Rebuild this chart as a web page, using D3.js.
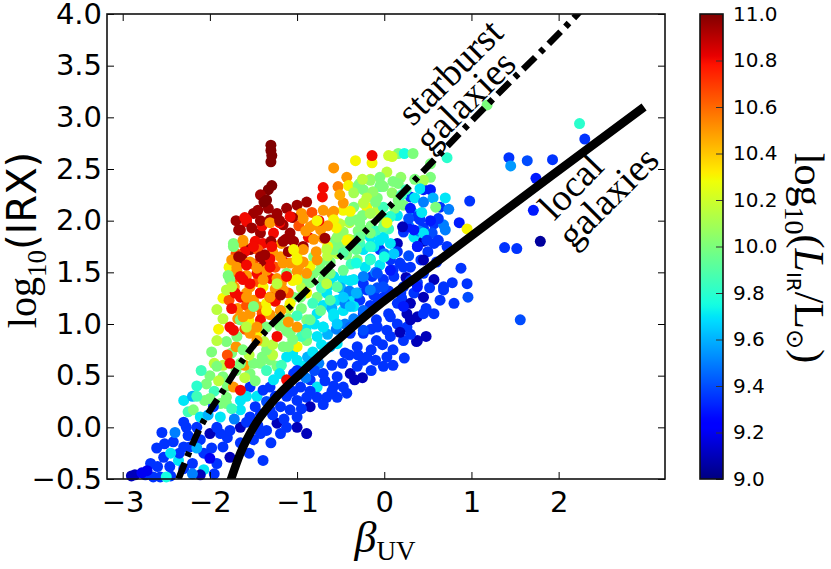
<!DOCTYPE html>
<html lang="en">
<head>
<meta charset="UTF-8">
<title>IRX - beta relation</title>
<script src="https://d3js.org/d3.v7.min.js"></script>
<style>
  body { margin: 0; background: #fff; }
  svg { display: block; }
</style>
</head>
<body>
<script>
// colour range and tick labels
const lirDomain = [9.0, 11.0];
const xTicks = [-3, -2, -1, 0, 1, 2];
const yTicks = [-0.5, 0, 0.5, 1, 1.5, 2, 2.5, 3, 3.5, 4];
const cbTicks = [9.0, 9.2, 9.4, 9.6, 9.8, 10.0, 10.2, 10.4, 10.6, 10.8, 11.0];

// galaxies: [beta_UV, log10(IRX), log10(L_IR/Lsun)]
const upperPts = [
  [-1.30,2.73,11.0],[-1.30,2.68,11.0],[-1.29,2.63,11.0],[-1.30,2.57,11.0],
  [-1.29,2.34,11.0],[-1.33,2.30,11.0],[-1.42,2.25,10.95],[-1.35,2.20,11.0],[-1.38,2.18,11.0],
  [-0.70,2.32,10.8],[-0.71,2.23,10.8],[-0.58,2.51,10.5],[-0.43,2.42,10.5],[-0.53,2.33,10.55],[-0.51,2.25,10.45],
  [-0.41,2.34,10.3],[-0.33,2.58,10.3],[-0.14,2.56,10.3],[-0.14,2.63,10.8],
  [0.05,2.63,10.2],[0.16,2.65,10.0],[0.23,2.65,9.75],[0.33,2.65,10.0],[0.09,2.62,10.2],
  [-0.30,2.34,10.0],[-0.16,2.39,10.05],[-0.35,2.27,10.1],[-0.24,2.30,10.0],[-0.13,2.28,10.05],[-0.04,2.35,10.0],[0.03,2.47,10.15],
  [0.19,2.42,10.05],[0.16,2.36,10.0],[-0.01,2.33,10.0],[0.53,2.42,10.0],[0.45,2.39,10.1],[0.41,2.31,9.7],[0.53,2.30,9.3],
  [0.56,2.22,9.6],[0.74,2.11,9.5],[0.70,2.22,9.7],[0.59,2.13,10.0],[0.43,2.08,9.7],[0.53,2.00,9.3],[0.30,2.12,9.3],
  [0.28,2.02,9.4],[0.16,2.20,10.0],[0.09,2.27,10.05],[0.03,1.98,10.25],[0.21,1.94,9.1],[0.34,1.91,9.3],[0.49,1.81,9.35],
  [0.70,1.91,9.5],[0.62,1.81,9.35],[0.53,2.55,10.0],[0.72,2.61,9.8],[1.18,3.12,10.0],
  [-0.25,2.40,10.15],[-0.05,2.42,10.0],[0.10,2.38,10.0],[0.25,2.30,9.85],[0.35,2.40,10.0],[0.35,2.22,9.7],
  [0.45,2.18,9.5],[0.20,2.25,9.85],[-0.20,2.22,10.15],[-0.10,2.18,10.0]
];
const outlierPts = [
  [2.24,2.94,9.8],[2.30,2.79,9.35],[1.43,2.61,9.35],[1.45,2.53,9.55],[1.64,2.58,9.4],[1.93,2.59,9.35],
  [1.74,2.41,9.3],[1.71,2.10,9.3],[1.79,1.80,9.05],[0.98,2.19,9.35],[0.86,1.98,9.3],[0.95,1.92,10.3],
  [1.38,1.74,9.35],[1.52,1.73,9.35],[1.56,1.04,9.4]
];
const redPts = [
  [-1.37,2.18,10.95],[-1.50,2.07,10.95],[-1.67,1.91,10.95],[-1.58,1.99,10.8],[-1.62,1.78,10.5],[-1.73,1.78,10.0],
  [-1.54,1.72,10.95],[-1.23,2.07,10.95],[-1.12,2.12,10.95],[-1.00,2.15,10.95],[-0.89,2.18,10.95],[-1.16,1.96,10.95],
  [-1.31,2.01,10.95],[-1.42,1.88,10.95],[-1.27,1.88,10.8],[-1.08,1.88,10.95],[-1.39,1.78,10.8],[-1.18,1.78,10.5],
  [-1.04,1.80,10.95],[-0.95,2.07,10.5],[-0.81,1.96,10.5],[-0.87,1.84,10.8],[-0.70,2.10,10.5],[-0.60,2.07,10.5],
  [-0.73,1.91,10.5],[-0.70,1.83,10.5],[-0.93,1.75,10.95],[-0.58,2.01,10.3],[-0.47,2.17,10.5],[-0.39,2.09,10.3],
  [-1.70,2.00,10.95],[-1.60,2.03,10.8],[-1.45,2.10,10.95],[-1.40,1.95,10.8],[-1.33,2.12,10.95],[-1.20,1.98,10.8],
  [-1.05,2.03,10.95],[-0.98,1.95,10.65],[-0.90,1.90,10.5],[-1.13,1.82,10.95],[-1.30,1.80,10.95],[-1.48,1.80,10.8],
  [-1.60,1.70,10.8],[-1.70,1.68,10.65],[-1.50,1.58,10.65],[-1.38,1.57,10.95],[-1.25,1.55,10.65],[-1.15,1.60,10.8],
  [-0.98,1.56,10.5],[-0.85,1.56,10.3],[-0.78,1.70,10.5],[-0.65,1.75,10.3],[-0.55,1.93,10.3],[-0.65,1.95,10.5],
  [-0.83,2.08,10.65],[-0.75,2.00,10.8],[-1.28,1.70,10.5],[-1.45,1.72,10.65],[-1.78,1.55,10.3],[-1.72,1.45,10.65],
  [-1.58,1.47,10.5],[-1.45,1.41,10.65],[-1.30,1.44,10.8],[-1.18,1.40,10.5],[-1.05,1.42,10.3],[-1.10,1.30,10.65],
  [-1.25,1.34,10.5],[-1.42,1.30,10.8],[-1.58,1.30,10.5],[-1.72,1.36,10.5],[-1.85,1.25,10.3],[-1.78,1.23,10.65],
  [-1.68,1.15,10.5],[-1.58,1.18,10.65],[-1.45,1.17,10.5],[-1.35,1.20,10.3],[-1.25,1.22,10.8],[-1.40,1.10,10.65],
  [-1.55,1.03,10.3],[-1.68,1.05,10.5],[-1.85,1.05,10.15],[-1.90,0.95,10.3],[-1.60,0.95,10.65],[-1.45,0.92,10.3],
  [-1.38,0.83,10.15],[-1.70,0.78,10.5],[-1.55,0.70,10.15],[-1.80,0.70,10.65],[-1.95,0.62,10.15],
  [-1.75,1.62,10.5],[-1.63,1.63,10.95],[-1.54,1.60,10.5],[-1.42,1.65,10.95],[-1.31,1.63,10.8],[-1.19,1.65,10.5],
  [-1.10,1.70,10.95],[-1.00,1.65,10.3],[-1.08,1.59,10.5],[-0.93,1.60,10.5],[-1.69,1.52,10.5],[-1.62,1.43,10.8],
  [-1.46,1.49,10.8],[-1.35,1.52,10.5],[-1.23,1.44,10.5],[-1.54,1.36,10.5],[-1.39,1.36,10.3],[-1.00,1.51,10.5],
  [-1.77,1.43,10.0],[-1.81,1.33,10.15],[-1.92,1.14,10.15],[-1.75,1.15,10.8],[-1.65,1.26,10.8],[-1.50,1.23,10.5],
  [-1.31,1.26,10.8],[-1.16,1.33,10.5],[-0.89,1.30,10.3],[-1.77,0.97,10.8],[-1.65,1.04,10.0],[-1.54,1.10,10.5],
  [-1.42,1.04,10.8],[-1.31,1.09,10.5],[-1.19,1.13,10.5],[-1.54,0.91,10.5],[-1.69,0.88,10.0],[-1.81,0.83,10.0],
  [-1.98,0.73,10.0],[-1.92,0.84,10.15],[-1.35,0.97,10.0],[-1.23,0.88,10.8],[-1.00,0.97,10.5],[-1.46,0.84,10.5],
  [-1.62,0.75,10.0],[-1.77,0.62,10.8],[-1.65,0.62,10.0],[-1.92,0.59,10.0],[-1.73,0.39,10.5],[-1.65,0.36,10.8],
  [-1.12,0.46,10.8]
];
const corePts = [
  [-1.58,2.01,10.8],[-1.65,1.91,10.95],[-1.52,1.93,10.95],[-1.42,2.00,10.95],[-1.31,1.98,10.5],[-1.20,2.00,10.95],
  [-1.08,2.04,10.8],[-0.93,2.02,10.5],[-0.85,1.94,10.5],[-0.77,2.00,10.3],[-0.68,1.83,10.95],[-0.81,1.82,10.5],
  [-0.93,1.72,10.5],[-1.04,1.72,10.3],[-1.16,1.80,10.95],[-1.29,1.75,10.8],[-1.37,1.67,10.95],[-1.50,1.75,10.8],
  [-1.62,1.81,10.5],[-1.67,1.65,10.95],[-1.69,1.55,10.5],[-1.58,1.57,10.8],[-1.46,1.54,10.5],[-1.31,1.55,10.8],
  [-1.16,1.59,10.5],[-1.00,1.62,10.3],[-0.89,1.49,10.5],[-0.73,1.52,10.0],[-0.77,1.62,10.5],[-0.66,1.72,10.15],
  [-1.12,1.46,10.8],[-1.00,1.43,10.3],[-1.23,1.39,10.15],[-1.39,1.43,10.5],[-1.54,1.39,10.8],[-1.65,1.46,10.8],
  [-1.71,1.30,10.8],[-1.58,1.26,10.5],[-1.42,1.30,10.8],[-1.31,1.26,10.5],[-1.19,1.28,10.95],[-1.08,1.20,10.3],
  [-0.96,1.26,10.0],[-1.19,1.13,10.5],[-1.35,1.13,10.3],[-1.50,1.17,10.0],[-1.62,1.07,10.5],[-1.73,0.94,10.8],
  [-1.58,0.97,10.15],[-1.46,0.97,10.5],[-1.10,1.02,10.5],[-1.73,1.75,10.0],[-1.79,1.47,10.0],[-1.75,1.36,10.15]
];
const bandPts = [
  [-0.31,2.01,10.0],[-0.20,2.13,10.3],[-0.24,1.91,10.0],[-0.47,1.89,10.05],[-0.56,1.81,10.0],[-0.35,1.81,10.0],
  [-0.16,1.84,9.7],[-0.01,2.01,10.0],[-0.01,1.84,9.7],[0.07,2.04,10.0],[0.22,2.15,10.0],[0.34,2.07,9.7],
  [0.41,2.01,9.35],[0.57,1.97,9.35],[0.68,1.96,9.5],[0.64,2.13,9.35],[0.22,1.89,9.35],[0.15,1.78,9.1],
  [0.34,1.84,9.7],[0.45,1.80,9.1],[0.57,1.78,9.35],[0.72,1.75,9.35],[0.38,1.75,9.35],[0.07,1.78,9.7],[-0.05,1.72,9.35],
  [-0.81,1.65,10.0],[-0.73,1.59,10.0],[-0.62,1.60,10.0],[-0.54,1.68,10.15],[-0.43,1.67,10.0],[-0.31,1.62,10.0],
  [-0.24,1.72,9.7],[-0.16,1.63,9.7],[-0.05,1.57,9.7],[0.07,1.62,9.35],[0.18,1.59,9.35],[0.30,1.55,9.35],
  [0.45,1.49,9.35],[0.57,1.43,9.1],[0.68,1.36,9.35],[0.60,1.60,9.35],[-1.12,1.49,10.0],[-0.93,1.43,10.0],
  [-0.81,1.49,10.0],[-0.70,1.43,10.0],[-0.58,1.46,9.7],[-0.47,1.43,9.7],[-0.35,1.43,9.7],[-0.24,1.39,9.35],
  [-0.14,1.46,9.35],[-0.01,1.43,9.35],[0.11,1.46,9.35],[0.22,1.36,9.35],[0.34,1.30,9.35],[0.45,1.26,9.1],
  [-1.04,1.26,10.0],[-0.77,1.26,10.0],[-0.66,1.30,9.7],[-0.54,1.23,9.7],[-0.39,1.26,9.7],[-0.28,1.23,9.35],
  [-0.12,1.28,9.35],[-0.01,1.26,9.35],[0.15,1.20,9.35],[0.26,1.10,9.1],[0.38,1.07,9.1],[0.57,1.10,9.35],[0.68,1.33,9.35],
  [-1.12,0.93,10.0],[-0.89,1.04,10.0],[-0.77,1.10,9.7],[-0.70,0.97,9.7],[-0.58,1.07,9.7],[-0.47,1.13,9.7],
  [-0.35,1.17,9.7],[-0.24,1.10,9.35],[-0.09,1.04,9.35],[0.03,0.94,9.35],[0.15,1.00,9.35],[0.26,0.97,9.35],
  [0.38,0.84,9.1],[0.07,0.88,9.35],[-0.09,0.84,9.35],[-0.24,0.91,9.35],[-0.31,0.78,9.35],[-0.39,0.91,9.35],
  [-0.54,0.81,9.7],[-0.77,0.88,9.7],[-0.89,0.84,10.0],[-1.00,0.78,10.3],[-1.16,0.78,10.0],[-1.35,0.75,10.0],
  [-0.20,0.68,9.35],[0.03,0.68,9.35],[0.22,0.84,9.35],[0.37,0.83,9.1],
  [-0.40,1.98,10.15],[-0.25,2.05,10.0],[-0.15,1.95,10.0],[0.05,1.92,9.85],[0.15,2.05,9.7],[0.28,1.95,9.5],
  [0.45,1.93,9.35],[0.55,1.88,9.4],[0.62,2.02,9.35],[0.12,2.12,10.0],[-0.08,2.10,10.15],[-0.30,1.90,10.0],
  [-0.50,1.75,10.0],[-0.40,1.82,10.15],[-0.28,1.78,9.85],[-0.12,1.75,9.7],[0.00,1.68,9.5],[0.15,1.70,9.35],
  [0.28,1.66,9.4],[0.42,1.62,9.35],[0.50,1.70,9.35],[0.40,1.90,9.5],[-0.10,1.90,9.85],[-0.65,1.66,10.15],
  [-0.38,1.58,9.85],[-0.22,1.55,9.7],[-0.10,1.50,9.5],[0.10,1.52,9.35],[0.25,1.45,9.1],[0.38,1.40,9.35],
  [0.52,1.35,9.35],[0.78,1.40,9.35],[0.88,1.54,9.35],[0.95,1.39,9.35],[0.96,1.26,9.4],[0.64,1.23,9.35],
  [-0.95,1.35,10.15],[-0.85,1.40,10.0],[-0.72,1.35,9.85],[-0.62,1.38,9.7],[-0.50,1.35,9.6],[-0.40,1.32,9.5],
  [-0.30,1.30,9.5],[-0.20,1.33,9.35],[-0.08,1.35,9.4],[0.05,1.32,9.35],[0.20,1.25,9.35],[0.30,1.20,9.1],
  [0.48,1.15,9.35],[0.80,1.20,9.35],[-0.82,1.20,9.85],[-0.70,1.18,9.7],[-0.60,1.15,9.6],[-0.45,1.20,9.5],
  [-0.35,1.05,9.5],[-0.16,1.18,9.35],[0.05,1.10,9.35],[-0.95,1.15,10.0],[-1.10,1.15,10.15],[-1.22,1.05,10.0],
  [-1.10,1.05,10.0],[-1.00,1.08,9.85],[-0.90,0.95,9.7],[-0.80,1.00,9.7],[-0.65,0.90,9.6],[-0.55,0.95,9.5],
  [-0.45,1.00,9.5],[-0.15,0.95,9.35],[-0.02,0.80,9.35],[0.10,0.75,9.35],[0.18,0.92,9.1],[0.30,0.90,9.35],
  [0.48,0.88,9.1],[-0.15,0.75,9.35],[-0.30,0.70,9.35],[-0.45,0.72,9.35],[-0.62,0.78,9.6],[-0.72,0.80,9.7],
  [-0.82,0.73,9.7],[-0.95,0.88,9.85],[-1.05,0.85,10.0],[-1.20,0.98,10.0],[-1.28,0.80,10.15],[-1.10,0.78,10.0]
];
const midPts = [
  [-0.28,2.36,10.0],[-0.16,2.40,10.15],[-0.05,2.33,9.9],[-0.08,2.22,10.0],[-0.24,2.17,10.15],[-0.35,2.13,10.0],
  [-0.47,2.10,10.3],[-0.58,2.09,10.5],[-0.51,1.97,10.15],[-0.39,2.00,10.0],[-0.28,1.98,10.0],[-0.16,2.07,10.1],
  [-0.01,2.13,9.85],[0.07,2.04,9.8],[-0.01,1.94,9.95],[-0.16,1.88,10.0],[-0.28,1.84,9.95],[-0.43,1.81,10.3],
  [-0.54,1.84,10.05],[-0.58,1.72,10.0],[-0.47,1.69,9.9],[-0.32,1.72,9.95],[-0.16,1.75,9.8],[-0.05,1.81,9.7],
  [0.11,1.68,9.65],[0.00,1.65,9.75],[-0.16,1.62,9.8],[-0.32,1.59,9.75],[-0.47,1.52,9.95],[-0.62,1.49,10.0],
  [-0.66,1.39,10.15],[-0.54,1.36,9.9],[-0.39,1.42,9.7],[-0.24,1.46,9.5],[-0.08,1.49,9.4],[0.07,1.52,9.3],
  [0.22,1.55,9.35],[-0.01,1.36,9.4],[-0.16,1.33,9.5],[-0.32,1.30,9.6],[-0.47,1.26,9.65],[-0.62,1.23,9.9],
  [-0.73,1.13,9.95],[-0.58,1.10,9.7],[-0.39,1.17,9.65],[-0.24,1.13,9.45],[-0.08,1.20,9.35],[-0.85,1.04,9.95],
  [-0.70,0.97,9.7],[-0.54,1.00,9.65],[-0.39,0.97,9.45],[-0.89,0.91,9.9],[-1.08,0.91,10.0],[-0.24,0.94,9.4],
  [0.30,2.23,9.35],[0.45,2.30,9.3],[0.38,2.04,9.35],[0.26,1.94,9.3],[0.45,1.88,9.7],[0.38,1.75,9.3],
  [0.45,1.62,9.1],[0.30,1.42,9.35],[0.19,1.30,9.35],[0.38,1.36,9.3],[0.22,1.17,9.3],[0.07,1.07,9.35],
  [-0.08,0.97,9.35],[0.30,1.04,9.1],[0.45,1.10,9.35]
];
const lowPts = [
  [-2.04,0.42,10.0],[-2.06,0.26,10.0],[-2.30,0.26,9.7],[-1.85,0.49,10.0],[-1.54,0.52,10.0],[-1.42,0.62,10.0],
  [-1.31,0.65,10.0],[-1.23,0.59,10.0],[-1.12,0.68,9.7],[-1.00,0.65,9.7],[-0.93,0.59,9.7],[-1.04,0.52,9.35],
  [-0.96,0.39,9.35],[-0.85,0.46,9.35],[-0.77,0.39,9.7],[-0.70,0.52,9.35],[-0.54,0.49,9.35],[-0.47,0.39,9.35],
  [-0.39,0.52,9.1],[-0.31,0.59,9.35],[-0.24,0.65,9.35],[-0.01,0.59,9.35],[-0.34,0.46,9.1],[-0.66,0.29,9.35],
  [-0.54,0.29,9.35],[-0.43,0.33,9.35],[-0.77,0.29,9.35],[-0.89,0.29,9.35],[-1.00,0.26,9.35],[-1.54,0.39,9.35],
  [-1.46,0.30,9.7],[-1.39,0.36,9.35],[-1.31,0.39,9.35],[-1.65,0.26,9.7],[-1.81,0.29,10.0],[-1.88,0.23,10.0],[-1.27,0.46,9.7],
  [-1.40,0.68,10.0],[-1.28,0.70,10.15],[-1.18,0.60,9.85],[-1.05,0.72,9.7],[-0.88,0.68,9.6],[-0.75,0.62,9.5],
  [-0.60,0.60,9.35],[-0.48,0.62,9.35],[-0.40,0.70,9.35],[-0.10,0.65,9.35],[0.10,0.60,9.35],[0.23,0.67,9.35],
  [-0.15,0.55,9.35],[-0.25,0.48,9.1],[-0.58,0.40,9.35],[-0.68,0.45,9.35],[-0.80,0.55,9.4],[-0.90,0.48,9.5],
  [-1.00,0.55,9.35],[-1.20,0.52,9.7],[-1.35,0.55,9.85],[-1.48,0.45,10.0],[-1.60,0.48,10.15],[-1.70,0.55,10.0],
  [-1.80,0.40,10.0],[-1.95,0.35,9.85],[-2.00,0.50,10.0],[-1.90,0.45,10.15],[-2.10,0.55,9.85],[-2.15,0.40,9.8],
  [-2.25,0.15,9.85],[-2.20,0.30,9.6],[-1.85,0.60,10.15],[-1.75,0.72,10.0],[-1.60,0.60,10.5],[-1.50,0.62,10.0],
  [-2.30,0.05,9.35],[-2.19,0.17,10.0],[-2.11,0.10,9.7],[-1.96,0.20,9.35],[-1.81,0.23,10.0],[-1.65,0.17,9.7],
  [-1.54,0.10,9.35],[-1.42,0.13,9.35],[-1.31,0.17,9.35],[-1.19,0.20,9.35],[-1.08,0.17,9.35],[-1.00,0.10,9.35],
  [-0.85,0.20,9.1],[-1.00,0.00,9.1],[-0.89,-0.06,9.1],[-1.23,0.04,9.1],[-1.35,-0.03,9.35],[-1.42,-0.06,9.35],
  [-1.19,-0.06,9.35],[-1.65,0.00,9.1],[-1.77,-0.03,9.35],[-1.88,-0.06,9.35],[-2.00,-0.06,9.1],[-1.92,0.00,9.35],
  [-2.15,0.30,9.85],[-2.00,0.28,10.0],[-1.75,0.18,9.85],[-1.58,0.30,9.7],[-1.48,0.20,9.35],[-1.35,0.25,9.4],
  [-1.25,0.30,9.35],[-1.12,0.30,9.35],[-1.05,0.35,9.35],[-0.85,0.35,9.35],[-0.70,0.22,9.35],[-0.60,0.35,9.35],
  [-0.95,0.18,9.35],[-1.15,0.08,9.35],[-1.28,0.12,9.35],[-1.45,0.02,9.35],[-1.58,0.05,9.35],[-1.72,0.08,9.5],
  [-1.88,0.10,9.7],[-2.02,0.12,9.6],[-1.12,0.00,9.35],[-1.30,-0.15,9.35],[-1.50,-0.12,9.35],[-1.65,-0.15,9.35]
];
const tailPts = [
  [-2.11,-0.12,9.35],[-2.23,-0.19,9.35],[-2.07,-0.25,9.35],[-1.85,-0.19,9.35],[-1.77,-0.29,9.1],[-1.92,-0.35,9.35],
  [-2.07,-0.41,9.7],[-2.11,-0.46,9.1],[-1.39,-0.32,9.35],[-2.61,-0.20,9.35],[-2.52,-0.16,9.35],[-2.42,-0.14,9.35],
  [-2.53,-0.29,9.35],[-2.46,-0.38,9.35],[-2.36,-0.32,9.7],[-2.30,-0.19,9.35],[-2.57,-0.48,9.35],[-2.65,-0.48,9.35],
  [-2.27,0.00,9.35],[-2.86,-0.46,9.1],[-2.74,-0.46,9.35],[-2.90,-0.47,9.1],[-2.78,-0.44,9.2],[-2.15,0.00,9.35],
  [-2.25,-0.08,9.35],[-2.40,-0.05,9.5],[-2.35,-0.25,9.35],[-2.20,-0.35,9.35],[-1.98,-0.20,9.35],[-1.80,-0.10,9.35],
  [-1.55,-0.25,9.35],[-1.95,-0.45,9.35],[-2.00,-0.30,9.2],[-2.68,-0.35,9.35],[-2.72,-0.42,9.2],[-2.45,-0.47,9.35],
  [-2.50,-0.48,9.75],[-2.55,-0.05,9.35],[-2.45,-0.25,9.7],[-2.30,-0.40,9.35],[-2.20,-0.45,9.5],[-2.60,-0.38,9.35],
  [-2.15,-0.20,9.6]
];

// reference relations
const starburstBeta = [-2.36, -2.11, -1.86, -1.60, -1.33, -1.04, -0.70, -0.39, -0.05, 0.53, 1.18, 2.15, 2.25];
const starburstIrx  = [-0.50, 0.00, 0.34, 0.68, 0.96, 1.20, 1.49, 1.75, 2.04, 2.55, 3.12, 3.94, 4.03];
const localBeta = [-1.78, -1.65, -1.50, -1.27, -0.96, -0.54, -0.08, 0.38, 0.76, 1.91, 2.98];
const localIrx  = [-0.56, -0.25, 0.00, 0.26, 0.52, 0.84, 1.17, 1.46, 1.70, 2.43, 3.10];

const width = 831, height = 569;
const plot = { left: 107, right: 665, top: 14, bottom: 479 };
const bar = { left: 700, right: 723 };

const svg = d3.select('body').append('svg')
  .attr('width', width)
  .attr('height', height);

const x = d3.scaleLinear().domain([-3.18, 3.22]).range([plot.left, plot.right]);
const y = d3.scaleLinear().domain([-0.5, 4.0]).range([plot.bottom, plot.top]);

// matplotlib "jet"
const jetPos = [0, 0.11, 0.125, 0.34, 0.35, 0.375, 0.64, 0.65, 0.66, 0.89, 0.91, 1];
const jetCol = ['#000080', '#0000ff', '#0000ff', '#00dbff', '#00e6f7', '#15ffe2',
                '#efff08', '#f7f600', '#ffec00', '#ff1300', '#e80000', '#800000'];
const jet = d3.scaleLinear().domain(jetPos).range(jetCol)
  .interpolate(d3.interpolateRgb).clamp(true);
const color = v => jet((v - lirDomain[0]) / (lirDomain[1] - lirDomain[0]));

svg.append('clipPath').attr('id', 'plot-clip')
  .append('rect')
  .attr('x', plot.left).attr('y', plot.top)
  .attr('width', plot.right - plot.left).attr('height', plot.bottom - plot.top);

// points
const allPts = [].concat(tailPts, lowPts, bandPts, midPts, redPts, corePts, upperPts, outlierPts);
svg.append('g')
  .selectAll('circle')
  .data(allPts)
  .join('circle')
  .attr('cx', d => x(d[0]))
  .attr('cy', d => y(d[1]))
  .attr('r', 5.5)
  .attr('fill', d => color(d[2]));

// relations
const lineGen = d3.line().x(d => x(d[0])).y(d => y(d[1])).curve(d3.curveMonotoneX);
const lines = svg.append('g').attr('clip-path', 'url(#plot-clip)');

lines.append('path')
  .attr('d', lineGen(starburstBeta.map((b, i) => [b, starburstIrx[i]])))
  .attr('fill', 'none')
  .attr('stroke', '#000')
  .attr('stroke-width', 6.5)
  .attr('stroke-dasharray', '17,7,5,7');

lines.append('path')
  .attr('d', lineGen(localBeta.map((b, i) => [b, localIrx[i]])))
  .attr('fill', 'none')
  .attr('stroke', '#000')
  .attr('stroke-width', 8.5);

// annotations
const notes = [
  { text: 'starburst', cx: 459, cy: 81, rot: -45 },
  { text: 'galaxies', cx: 474, cy: 110, rot: -45 },
  { text: 'local', cx: 580, cy: 195, rot: -46 },
  { text: 'galaxies', cx: 617, cy: 206, rot: -45 }
];
svg.append('g')
  .selectAll('text')
  .data(notes)
  .join('text')
  .attr('transform', d => `translate(${d.cx},${d.cy}) rotate(${d.rot})`)
  .attr('text-anchor', 'middle')
  .style('font-family', '"Liberation Serif", serif')
  .style('font-size', '38px')
  .text(d => d.text);

// axes, ticks inside on all sides
const tickFont = g => g.selectAll('text')
  .style('font-family', '"DejaVu Sans", sans-serif')
  .style('font-size', '29px')
  .attr('fill', '#000');

svg.append('g')
  .attr('transform', `translate(0,${plot.bottom})`)
  .call(d3.axisBottom(x).tickValues(xTicks).tickSize(-7).tickPadding(12).tickFormat(d3.format('d')))
  .call(g => g.select('.domain').remove())
  .call(tickFont);

svg.append('g')
  .attr('transform', `translate(0,${plot.top})`)
  .call(d3.axisTop(x).tickValues(xTicks).tickSize(-7).tickFormat(''))
  .call(g => g.select('.domain').remove());

svg.append('g')
  .attr('transform', `translate(${plot.left},0)`)
  .call(d3.axisLeft(y).tickValues(yTicks).tickSize(-7).tickPadding(5).tickFormat(d3.format('.1f')))
  .call(g => g.select('.domain').remove())
  .call(tickFont);

svg.append('g')
  .attr('transform', `translate(${plot.right},0)`)
  .call(d3.axisRight(y).tickValues(yTicks).tickSize(-7).tickFormat(''))
  .call(g => g.select('.domain').remove());

svg.append('rect')
  .attr('x', plot.left).attr('y', plot.top)
  .attr('width', plot.right - plot.left).attr('height', plot.bottom - plot.top)
  .attr('fill', 'none')
  .attr('stroke', '#111')
  .attr('stroke-width', 1.6);

// axis labels
const yLab = svg.append('text')
  .attr('transform', 'translate(36,240) rotate(-90)')
  .attr('text-anchor', 'middle')
  .style('font-size', '40px');
yLab.append('tspan').style('font-family', '"Liberation Serif", serif').text('log');
yLab.append('tspan').style('font-family', '"Liberation Serif", serif').style('font-size', '27px').attr('dy', 10).text('10');
yLab.append('tspan').style('font-family', '"DejaVu Sans", sans-serif').attr('dy', -10).text('(IRX)');

const xLab = svg.append('text')
  .attr('x', 385).attr('y', 552)
  .attr('text-anchor', 'middle')
  .style('font-family', '"Liberation Serif", serif');
xLab.append('tspan').style('font-style', 'italic').style('font-size', '44px').text('β');
xLab.append('tspan').style('font-size', '27px').attr('dy', 8).text('UV');

// colour bar
const cb = d3.scaleLinear().domain(lirDomain).range([plot.bottom, plot.top]);
const grad = svg.append('defs').append('linearGradient')
  .attr('id', 'jet-grad')
  .attr('x1', 0).attr('y1', 1).attr('x2', 0).attr('y2', 0);
grad.selectAll('stop')
  .data(d3.range(0, 1.0001, 0.01))
  .join('stop')
  .attr('offset', d => d)
  .attr('stop-color', d => jet(d));

svg.append('rect')
  .attr('x', bar.left).attr('y', plot.top)
  .attr('width', bar.right - bar.left).attr('height', plot.bottom - plot.top)
  .attr('fill', 'url(#jet-grad)');

svg.append('g')
  .attr('transform', `translate(${bar.right},0)`)
  .call(d3.axisRight(cb).tickValues(cbTicks).tickSize(-7).tickPadding(10).tickFormat(d3.format('.1f')))
  .call(g => g.select('.domain').remove())
  .call(g => g.selectAll('line').attr('stroke', '#333'))
  .call(g => g.selectAll('text')
    .style('font-family', '"DejaVu Sans", sans-serif')
    .style('font-size', '20px')
    .attr('fill', '#000'));

svg.append('rect')
  .attr('x', bar.left).attr('y', plot.top)
  .attr('width', bar.right - bar.left).attr('height', plot.bottom - plot.top)
  .attr('fill', 'none')
  .attr('stroke', '#111')
  .attr('stroke-width', 1.6);

const cLab = svg.append('text')
  .attr('transform', 'translate(795,258) rotate(90)')
  .attr('text-anchor', 'middle')
  .style('font-family', '"Liberation Serif", serif')
  .style('font-size', '42px');
cLab.append('tspan').text('log');
cLab.append('tspan').style('font-size', '28px').attr('dy', 10).text('10');
cLab.append('tspan').attr('dy', -10).text('(');
cLab.append('tspan').style('font-style', 'italic').text('L');
cLab.append('tspan').style('font-family', '"DejaVu Sans", sans-serif').style('font-size', '20px').attr('dy', 8).text('IR');
cLab.append('tspan').attr('dy', -8).text('/');
cLab.append('tspan').text('L');
cLab.append('tspan').style('font-family', '"DejaVu Sans", sans-serif').style('font-size', '24px').attr('dy', 8).text('⊙');
cLab.append('tspan').attr('dy', -8).text(')');
</script>
</body>
</html>
